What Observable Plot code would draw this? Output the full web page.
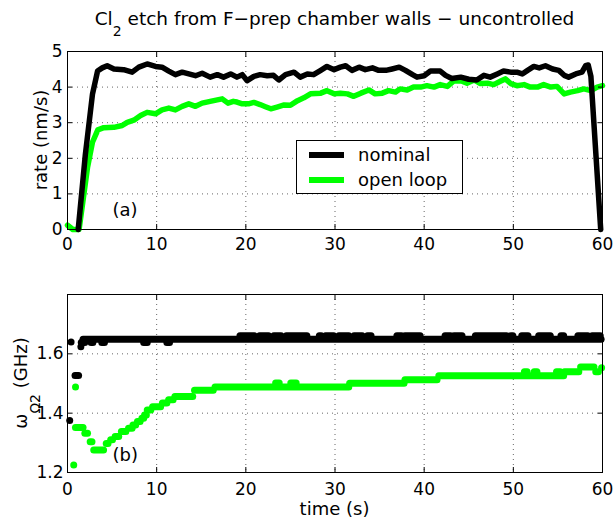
<!DOCTYPE html>
<html>
<head>
<meta charset="utf-8">
<script src="https://cdn.jsdelivr.net/npm/d3@7"></script>
<script src="https://cdn.jsdelivr.net/npm/@observablehq/plot@0.6"></script>
<style>
  body { margin: 0; background: white; }
  #wrap { position: relative; width: 616px; height: 531px; background: white; font-family: "DejaVu Sans", sans-serif; color: black; overflow: hidden; }
  #title { position: absolute; z-index: 5; left: 67px; width: 535px; top: 10px; height: 18px; line-height: 18px; text-align: center; font-size: 18.5px; white-space: nowrap; }
  #title .sub { font-size: 14px; position: relative; top: 11px; }
  #top { position: absolute; left: 0; top: 30px; z-index: 1; }
  #bottom { position: absolute; left: 0; top: 260px; z-index: 1; }
  #legend { position: absolute; z-index: 3; left: 296px; top: 140px; width: 165px; height: 52px; border: 1px solid black; background: white; }
  #legend .sw { position: absolute; left: 12px; width: 35px; height: 6px; }
  #legend .lb { position: absolute; left: 61px; height: 22px; line-height: 22px; font-size: 18px; white-space: nowrap; }
</style>
</head>
<body>
<div id="wrap">
  <div id="title"></div>
  <div id="top"></div>
  <div id="bottom"></div>
  <div id="legend"></div>
</div>
<script>
// ---- tick values ----
const timeTicks = [0, 10, 20, 30, 40, 50, 60];
const rateTicks = [0, 1, 2, 3, 4, 5];
const freqTicks = [1.2, 1.4, 1.6];

// ---- series names / colours ----
const seriesNames = ["nominal", "open loop"];
const seriesColors = ["#000000", "#00ff00"];

// ---- panel (a): etch rate [time s, rate nm/s] ----
const nominalRate = [[1.2,0],[2.0,2.1],[2.8,3.8],[3.37,4.45],[3.9,4.54],[4.45,4.6],[5.2,4.51],[6.3,4.49],[7.25,4.42],[8.0,4.56],[8.93,4.65],[9.87,4.58],[10.6,4.56],[11.36,4.45],[12.1,4.35],[12.86,4.42],[13.6,4.37],[14.35,4.32],[15.1,4.39],[16.0,4.28],[16.8,4.35],[17.5,4.28],[18.3,4.37],[19.0,4.28],[19.6,4.35],[20.15,4.18],[20.9,4.3],[21.6,4.35],[22.4,4.32],[23.1,4.33],[23.7,4.2],[24.45,4.35],[25.4,4.42],[26.1,4.28],[26.9,4.37],[27.6,4.35],[28.4,4.47],[29.1,4.58],[29.9,4.49],[30.6,4.56],[31.2,4.6],[31.9,4.47],[32.7,4.56],[33.4,4.49],[34.2,4.54],[34.9,4.47],[35.7,4.47],[36.4,4.51],[37.2,4.56],[37.9,4.47],[38.7,4.35],[39.2,4.28],[40.0,4.32],[40.7,4.45],[41.1,4.45],[41.8,4.45],[42.4,4.33],[43.1,4.24],[44.1,4.28],[45.0,4.22],[45.9,4.2],[46.7,4.33],[47.4,4.28],[48.2,4.37],[48.9,4.45],[49.7,4.42],[50.4,4.42],[51.0,4.37],[51.6,4.47],[52.3,4.58],[52.9,4.54],[53.6,4.6],[54.4,4.51],[55.1,4.47],[55.7,4.33],[56.2,4.28],[57.0,4.37],[57.7,4.42],[58.1,4.6],[58.4,4.62],[58.7,4.3],[59.8,0]];

const openLoopRate = [[0,0.12],[0.6,0],[1.3,0],[2.25,1.75],[2.8,2.45],[3.4,2.8],[4.07,2.86],[5.2,2.87],[6.13,2.92],[6.7,3.01],[7.44,3.07],[8.2,3.2],[8.93,3.29],[9.87,3.25],[10.6,3.36],[11.36,3.41],[12.1,3.36],[12.86,3.46],[13.6,3.53],[14.35,3.46],[15.1,3.55],[16.0,3.6],[16.8,3.64],[17.35,3.67],[18.0,3.55],[18.6,3.6],[19.0,3.58],[19.6,3.53],[20.3,3.53],[20.9,3.57],[21.6,3.51],[22.2,3.45],[22.8,3.39],[23.5,3.44],[24.3,3.5],[25.0,3.49],[25.8,3.62],[26.5,3.7],[27.25,3.81],[28.4,3.83],[29.1,3.9],[29.9,3.81],[30.6,3.83],[31.4,3.81],[32.1,3.74],[32.9,3.83],[33.8,3.92],[34.5,3.81],[35.3,3.83],[36.0,3.9],[36.8,3.86],[37.3,3.95],[38.1,3.92],[38.8,4.0],[39.6,4.0],[40.3,4.04],[41.1,4.0],[41.8,4.07],[42.6,4.02],[43.3,4.17],[44.1,4.18],[44.8,4.11],[45.6,4.2],[46.3,4.1],[47.1,4.11],[47.8,4.07],[48.6,4.17],[49.1,4.23],[49.7,4.1],[50.4,4.04],[51.2,4.07],[51.9,4.0],[52.7,4.0],[53.4,4.07],[54.2,4.0],[54.9,4.02],[55.7,3.81],[56.4,3.86],[57.2,3.9],[57.9,3.95],[58.7,3.9],[59.4,4.0],[60.0,4.04]];

// ---- panel (b): frequency, runs of constant value [t start, t end, GHz] ----
const nominalFreqRuns = [[1.8,59.9,1.649],[19.4,21.0,1.661],[21.6,22.6,1.661],[23.2,24.0,1.661],[24.6,26.9,1.661],[28.3,28.5,1.661],[29.0,29.9,1.661],[30.5,31.6,1.661],[32.2,33.1,1.661],[33.7,34.1,1.661],[37.0,37.5,1.661],[37.9,39.6,1.661],[42.4,43.0,1.661],[43.4,44.3,1.661],[45.8,49.3,1.661],[49.8,50.0,1.661],[51.0,51.7,1.661],[52.9,54.2,1.661],[55.4,55.7,1.661],[57.3,58.4,1.661],[58.9,59.8,1.661],[1.6,2.0,1.638],[2.7,2.9,1.638],[3.9,4.2,1.638],[8.6,9.0,1.638],[11.2,11.5,1.638],[0.9,1.3,1.527]];
const nominalFreqPoints = [[0.25,1.375],[0.4,1.64],[1.5,1.624]];

const openLoopFreqRuns = [[0.95,1.8,1.352],[2.0,2.3,1.332],[2.6,2.8,1.304],[3.0,4.1,1.276],[4.4,4.6,1.298],[4.9,5.1,1.31],[5.4,5.8,1.321],[6.1,6.6,1.338],[6.9,7.3,1.349],[7.4,7.7,1.36],[7.9,8.2,1.372],[8.4,8.6,1.383],[8.7,8.9,1.394],[9.0,9.4,1.411],[9.6,10.5,1.422],[10.7,11.2,1.434],[11.4,11.9,1.445],[12.1,14.1,1.456],[14.3,16.4,1.477],[16.6,31.6,1.488],[23.4,23.8,1.502],[25.1,25.7,1.502],[31.7,37.8,1.501],[37.9,41.5,1.513],[41.7,55.7,1.526],[51.3,51.6,1.54],[52.4,52.7,1.54],[54.9,55.3,1.54],[55.8,57.4,1.54],[57.6,59.1,1.556],[59.3,59.6,1.54]];
const openLoopFreqPoints = [[0.7,1.225],[0.9,1.488],[59.9,1.553]];

const panelLabels = ["(a)", "(b)"];

// ---- title ----
document.getElementById("title").innerHTML =
  'Cl<span class="sub">2</span> etch from F\u2212prep chamber walls \u2212 uncontrolled';

const font = "DejaVu Sans";
const gridStyle = {stroke: "#000", strokeOpacity: 0.6, strokeDasharray: "1,4"};

// ---- panel (a) ----
const plotA = Plot.plot({
  width: 616, height: 230,
  marginLeft: 67, marginRight: 14, marginTop: 21, marginBottom: 31,
  x: {domain: [0, 60], label: null},
  y: {domain: [0, 5], label: null},
  style: {fontFamily: font, fontSize: "17px", color: "black", background: "transparent", overflow: "visible"},
  marks: [
    Plot.gridX(timeTicks.slice(1, -1), gridStyle),
    Plot.gridY(rateTicks.slice(1, -1), gridStyle),
    Plot.line(openLoopRate, {x: d => d[0], y: d => d[1], stroke: seriesColors[1], strokeWidth: 5.5, strokeLinejoin: "round", strokeLinecap: "round"}),
    Plot.line(nominalRate, {x: d => d[0], y: d => d[1], stroke: seriesColors[0], strokeWidth: 5.5, strokeLinejoin: "round", strokeLinecap: "round"}),
    Plot.text([panelLabels[0]], {frameAnchor: "bottom-left", dx: 45, dy: -14, textAnchor: "start", fontSize: 18}),
    Plot.frame({stroke: "black"}),
    Plot.axisX(timeTicks, {anchor: "bottom", tickSize: -5, tickPadding: 13, label: null}),
    Plot.axisX(timeTicks, {anchor: "top", tickSize: -5, tickFormat: () => "", label: null}),
    Plot.axisY(rateTicks, {anchor: "left", tickSize: -5, tickPadding: 10, label: null}),
    Plot.axisY(rateTicks, {anchor: "right", tickSize: -5, tickFormat: () => "", label: null})
  ]
});
document.getElementById("top").appendChild(plotA);
d3.select(plotA).append("text")
  .attr("transform", "translate(47,110) rotate(-90)")
  .attr("text-anchor", "middle")
  .attr("font-family", font).attr("font-size", 18)
  .text("rate (nm/s)");

// ---- panel (b) ----
const plotB = Plot.plot({
  width: 616, height: 271,
  marginLeft: 67, marginRight: 14, marginTop: 34, marginBottom: 59,
  x: {domain: [0, 60], label: null},
  y: {domain: [1.2, 1.8], label: null},
  style: {fontFamily: font, fontSize: "17px", color: "black", background: "transparent", overflow: "visible"},
  marks: [
    Plot.gridX(timeTicks.slice(1, -1), gridStyle),
    Plot.gridY(freqTicks.slice(1), gridStyle),
    Plot.ruleY(nominalFreqRuns, {x1: d => d[0], x2: d => d[1], y: d => d[2], stroke: seriesColors[0], strokeWidth: 7, strokeLinecap: "round"}),
    Plot.dot(nominalFreqPoints, {x: d => d[0], y: d => d[1], r: 3.5, fill: seriesColors[0]}),
    Plot.ruleY(openLoopFreqRuns, {x1: d => d[0], x2: d => d[1], y: d => d[2], stroke: seriesColors[1], strokeWidth: 7, strokeLinecap: "round"}),
    Plot.dot(openLoopFreqPoints, {x: d => d[0], y: d => d[1], r: 3.5, fill: seriesColors[1]}),
    Plot.text([panelLabels[1]], {frameAnchor: "bottom-left", dx: 45, dy: -12, textAnchor: "start", fontSize: 18}),
    Plot.frame({stroke: "black"}),
    Plot.axisX(timeTicks, {anchor: "bottom", tickSize: -5, tickPadding: 15, label: null}),
    Plot.axisX(timeTicks, {anchor: "top", tickSize: -5, tickFormat: () => "", label: null}),
    Plot.axisY(freqTicks, {anchor: "left", tickSize: -5, tickPadding: 9, tickFormat: d3.format(".1f"), label: null}),
    Plot.axisY(freqTicks, {anchor: "right", tickSize: -5, tickFormat: () => "", label: null})
  ]
});
document.getElementById("bottom").appendChild(plotB);
const yl = d3.select(plotB).append("text")
  .attr("transform", "translate(27,123) rotate(-90)")
  .attr("text-anchor", "middle")
  .attr("font-family", font).attr("font-size", 18);
yl.append("tspan").text("\u03c9");
yl.append("tspan").attr("font-size", 14).attr("dy", 13).text("\u03a92");
yl.append("tspan").attr("dy", -13).text(" (GHz)");
d3.select(plotB).append("text")
  .attr("x", 334.5).attr("y", 255)
  .attr("text-anchor", "middle")
  .attr("font-family", font).attr("font-size", 18)
  .text("time (s)");

// ---- legend ----
const legend = document.getElementById("legend");
seriesNames.forEach((name, i) => {
  const cy = 14 + i * 25;
  const sw = document.createElement("div");
  sw.className = "sw";
  sw.style.top = (cy - 3) + "px";
  sw.style.background = seriesColors[i];
  legend.appendChild(sw);
  const lb = document.createElement("div");
  lb.className = "lb";
  lb.style.top = (cy - 11) + "px";
  lb.textContent = name;
  legend.appendChild(lb);
});
</script>
</body>
</html>
